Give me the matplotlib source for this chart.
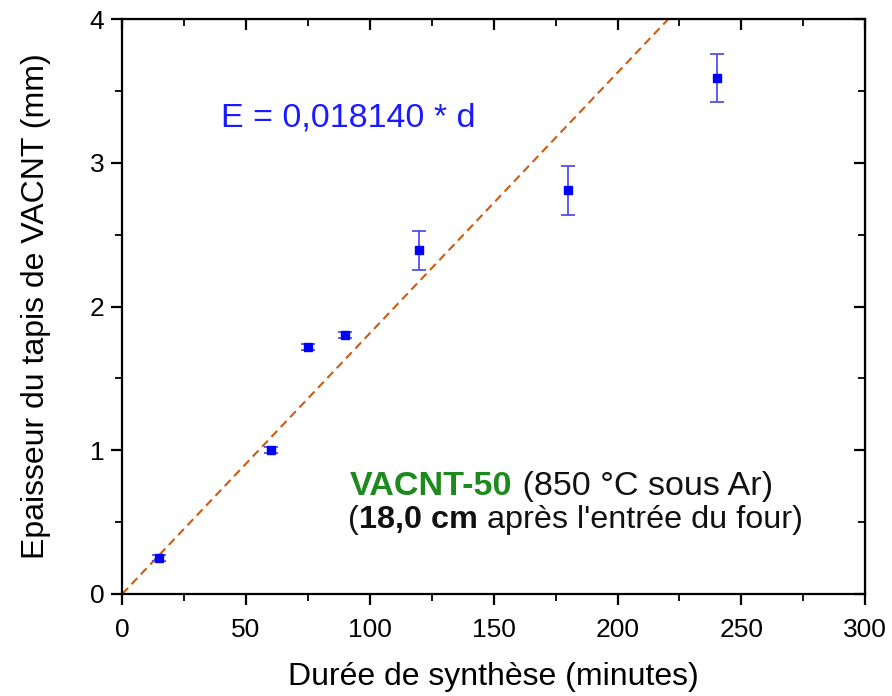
import matplotlib
matplotlib.use("Agg")
import matplotlib.pyplot as plt
import numpy as np
from matplotlib.ticker import MultipleLocator

plt.rcParams['font.family'] = ['Liberation Sans', 'DejaVu Sans']

# durée de synthèse (minutes) / épaisseur (mm) / barre d'erreur (mm)
durees = [15, 60, 75, 90, 120, 180, 240]
epaisseurs = [0.25, 1.00, 1.72, 1.80, 2.39, 2.81, 3.59]
erreurs = [0.02, 0.02, 0.02, 0.02, 0.135, 0.17, 0.165]

pente = 0.018140
fit_x = [0, 240]

fig = plt.figure(figsize=(8.92, 6.96), dpi=100)
ax = fig.add_axes([0.137, 0.1466, 0.833, 0.826])

ax.plot(fit_x, [pente * x for x in fit_x], linestyle=(0, (4, 2.5)), color='#cc5a10', linewidth=1.5, zorder=2)

ax.errorbar(durees, epaisseurs, yerr=erreurs, fmt='s', color='#0000ff', ecolor='#5050e8',
            markersize=6, elinewidth=1.3, capsize=5, capthick=1.3, zorder=3)

ax.set_xlim(0, 300)
ax.set_ylim(0, 4)
ax.xaxis.set_major_locator(MultipleLocator(50))
ax.xaxis.set_minor_locator(MultipleLocator(25))
ax.yaxis.set_major_locator(MultipleLocator(1))
ax.yaxis.set_minor_locator(MultipleLocator(0.5))

for s in ax.spines.values():
    s.set_linewidth(1.6)

ax.tick_params(which='major', direction='out', length=8, width=1.6, labelsize=19, pad=5)
ax.tick_params(axis='x', which='major', pad=9)
ax.tick_params(which='minor', direction='out', length=5, width=1.3)

# ticks miroir (vers l'intérieur) en haut et à droite
top = ax.secondary_xaxis('top')
top.xaxis.set_major_locator(MultipleLocator(50))
top.xaxis.set_minor_locator(MultipleLocator(25))
top.tick_params(which='major', direction='in', length=8, width=1.6, labeltop=False)
top.tick_params(which='minor', direction='in', length=5, width=1.3)
right = ax.secondary_yaxis('right')
right.yaxis.set_major_locator(MultipleLocator(1))
right.yaxis.set_minor_locator(MultipleLocator(0.5))
right.tick_params(which='major', direction='in', length=8, width=1.6, labelright=False)
right.tick_params(which='minor', direction='in', length=5, width=1.3)

ax.set_xlabel("Durée de synthèse (minutes)", fontsize=23, labelpad=15)
ax.set_ylabel("Epaisseur du tapis de VACNT (mm)", fontsize=23, labelpad=28)

ax.text(40, 3.25, "E = 0,018140 * d", color='#1a1aff', fontsize=24.5, va='baseline')

t1 = ax.text(92, 0.69, "VACNT-50", color='#1e8a1e', fontsize=24.6, fontweight='bold', va='baseline')
ax.annotate(" (850 °C sous Ar)", xy=(1, 0), xycoords=t1, fontsize=24.6, va='bottom', color='#111111')
t2 = ax.text(91.2, 0.46, "(", fontsize=23.3, va='baseline', color='#111111')
t3 = ax.annotate("18,0 cm", xy=(1, 0), xycoords=t2, fontsize=23.3, fontweight='bold', va='bottom', color='#111111')
ax.annotate(" après l'entrée du four)", xy=(1, 0), xycoords=t3, fontsize=23.3, va='bottom', color='#111111')

fig.savefig("out.png", dpi=100)
